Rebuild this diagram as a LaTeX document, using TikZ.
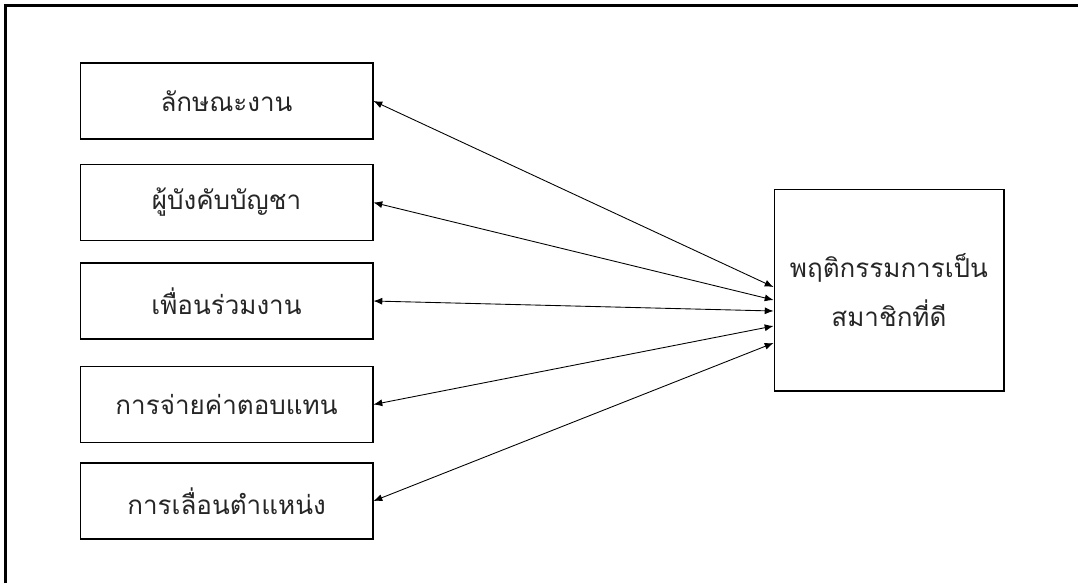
\documentclass[tikz,border=0pt]{standalone}
\usepackage{fontspec}
\newfontfamily\thaifont[Script=Thai]{Loma}
\usetikzlibrary{calc,arrows.meta}

\tikzset{
  factor/.style={draw,line width=0.6pt,minimum width=5.86cm,minimum height=1.52cm,inner sep=0pt,text=black!85,font=\thaifont\fontsize{14.8}{18}\selectfont},
  result/.style={draw,line width=0.6pt,minimum width=4.6cm,minimum height=4.04cm,inner sep=0pt,align=center,text=black!85,font=\thaifont\fontsize{14.8}{28}\selectfont},
  link/.style={{Latex[length=5pt,width=4pt]}-{Latex[length=5pt,width=4pt]},line width=0.5pt}
}

\begin{document}
\begin{tikzpicture}[x=0.02cm,y=-0.02cm]
  \useasboundingbox (0,0) rectangle (1078,583);
  %FRAME
  \draw[line width=1.2pt] (5.5,583) -- (5.5,5.5) -- (1078,5.5);

  %FACTORS
  \node[factor] (f1) at (226.5,101) {ลักษณะงาน};
  \node[factor] (f2) at (226.5,202.5) {ผู้บังคับบัญชา};
  \node[factor] (f3) at (226.5,301) {เพื่อนร่วมงาน};
  \node[factor] (f4) at (226.5,404.5) {การจ่ายค่าตอบแทน};
  \node[factor] (f5) at (226.5,501) {การเลื่อนตำแหน่ง};

  %RESULT
  \node[result] (res) at (889,290) {พฤติกรรมการเป็น\\สมาชิกที่ดี};

  %END POINTS
  \coordinate (t1) at ($(res.west)+(0,-3)$);
  \coordinate (t2) at ($(res.west)+(0,10)$);
  \coordinate (t3) at ($(res.west)+(0,21)$);
  \coordinate (t4) at ($(res.west)+(0,36)$);
  \coordinate (t5) at ($(res.west)+(0,53)$);

  %LINKS
  \foreach \i in {1,...,5}
    \draw[link] (f\i.east) -- (t\i);
\end{tikzpicture}
\end{document}
